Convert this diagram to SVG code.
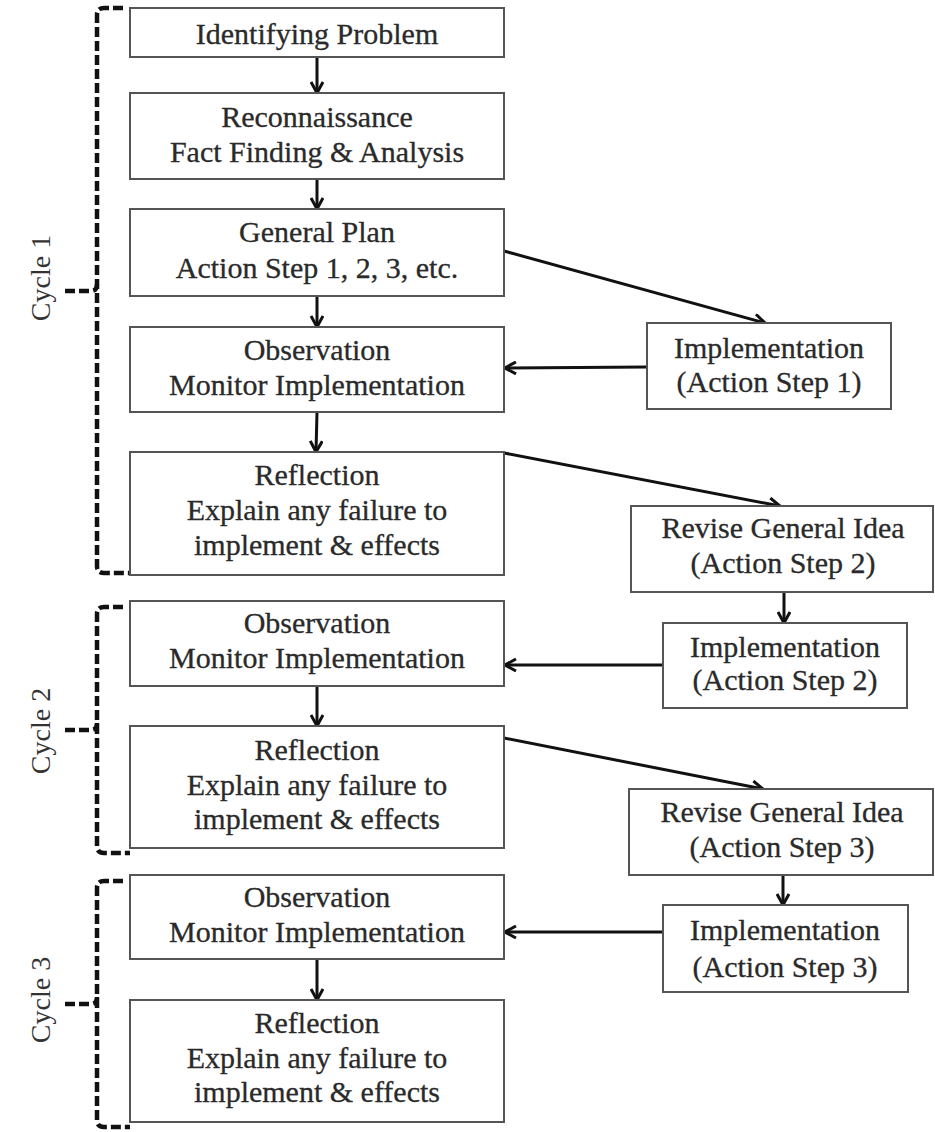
<svg xmlns="http://www.w3.org/2000/svg" width="935" height="1132" viewBox="0 0 935 1132">
<style>
.box{fill:#fff;stroke:#555;stroke-width:2}
.t{font-family:"Liberation Serif","Times New Roman",serif;font-size:30px;fill:#2a2a2a;stroke:#2a2a2a;stroke-width:0.3;text-anchor:middle}
.c{font-family:"Liberation Serif","Times New Roman",serif;font-size:28px;fill:#333;text-anchor:middle}
.ar{stroke:#111;stroke-width:3;fill:none;marker-end:url(#ah)}
.br{stroke:#111;stroke-width:4.5;fill:none;stroke-dasharray:10 4}
</style>
<defs>
<marker id="ah" markerUnits="userSpaceOnUse" viewBox="0 0 14 14" markerWidth="14" markerHeight="14" refX="13" refY="7" orient="auto">
<path d="M2,1 L13,7 L2,13" stroke="#111" stroke-width="3" fill="none"/>
</marker>
</defs>
<rect width="935" height="1132" fill="#fff"/>

<g id="brackets">
<g id="cycle1">
<path class="br" d="M123,8 H104 Q97,8 97,15 V566 Q97,573 104,573 H130"/>
<path class="br" d="M65,291 H91 Q97,291 97,284" stroke-dasharray="none"/>
<text class="c" transform="translate(50,278) rotate(-90)">Cycle 1</text>
</g>
<g id="cycle2">
<path class="br" d="M123,607 H104 Q97,607 97,614 V846 Q97,853 104,853 H130"/>
<path class="br" d="M65,730 H91 Q97,730 97,723" stroke-dasharray="9 4"/>
<text class="c" transform="translate(50,731) rotate(-90)">Cycle 2</text>
</g>
<g id="cycle3">
<path class="br" d="M123,881 H104 Q97,881 97,888 V1120 Q97,1127 104,1127 H130"/>
<path class="br" d="M65,1004 H91 Q97,1004 97,997" stroke-dasharray="9 4"/>
<text class="c" transform="translate(50,1000) rotate(-90)">Cycle 3</text>
</g>
</g>

<g id="connectors">
<line class="ar" x1="317" y1="57" x2="317" y2="93"/>
<line class="ar" x1="317" y1="179" x2="317" y2="209"/>
<line class="ar" x1="317" y1="296" x2="317" y2="327"/>
<line class="ar" x1="317" y1="412" x2="316" y2="452"/>
<line class="ar" x1="504" y1="251" x2="765" y2="323"/>
<line class="ar" x1="647" y1="367" x2="505" y2="368"/>
<line class="ar" x1="504" y1="453" x2="780" y2="506"/>
<line class="ar" x1="784" y1="592" x2="784" y2="623"/>
<line class="ar" x1="663" y1="665" x2="505" y2="665"/>
<line class="ar" x1="317" y1="686" x2="317" y2="726"/>
<line class="ar" x1="504" y1="738" x2="763" y2="789"/>
<line class="ar" x1="783" y1="875" x2="783" y2="905"/>
<line class="ar" x1="663" y1="932" x2="505" y2="932"/>
<line class="ar" x1="317" y1="959" x2="317" y2="1000"/>
</g>

<g id="n1"><rect class="box" x="130" y="8" width="374" height="49"/>
<text class="t" x="317" y="44">Identifying Problem</text></g>

<g id="n2"><rect class="box" x="130" y="93" width="374" height="86"/>
<text class="t" x="317" y="127">Reconnaissance</text>
<text class="t" x="317" y="162">Fact Finding &amp; Analysis</text></g>

<g id="n3"><rect class="box" x="130" y="209" width="374" height="87"/>
<text class="t" x="317" y="242">General Plan</text>
<text class="t" x="317" y="278">Action Step 1, 2, 3, etc.</text></g>

<g id="n4"><rect class="box" x="130" y="327" width="374" height="85"/>
<text class="t" x="317" y="360">Observation</text>
<text class="t" x="317" y="395">Monitor Implementation</text></g>

<g id="n5"><rect class="box" x="130" y="452" width="374" height="123"/>
<text class="t" x="317" y="485">Reflection</text>
<text class="t" x="317" y="520">Explain any failure to</text>
<text class="t" x="317" y="555">implement &amp; effects</text></g>

<g id="n6"><rect class="box" x="130" y="601" width="374" height="85"/>
<text class="t" x="317" y="633">Observation</text>
<text class="t" x="317" y="668">Monitor Implementation</text></g>

<g id="n7"><rect class="box" x="130" y="726" width="374" height="122"/>
<text class="t" x="317" y="760">Reflection</text>
<text class="t" x="317" y="795">Explain any failure to</text>
<text class="t" x="317" y="829">implement &amp; effects</text></g>

<g id="n8"><rect class="box" x="130" y="875" width="374" height="84"/>
<text class="t" x="317" y="907">Observation</text>
<text class="t" x="317" y="942">Monitor Implementation</text></g>

<g id="n9"><rect class="box" x="130" y="1000" width="374" height="122"/>
<text class="t" x="317" y="1033">Reflection</text>
<text class="t" x="317" y="1068">Explain any failure to</text>
<text class="t" x="317" y="1102">implement &amp; effects</text></g>

<g id="r1"><rect class="box" x="647" y="323" width="244" height="86"/>
<text class="t" x="769" y="358">Implementation</text>
<text class="t" x="769" y="392">(Action Step 1)</text></g>

<g id="r2"><rect class="box" x="631" y="506" width="302" height="86"/>
<text class="t" x="783" y="538">Revise General Idea</text>
<text class="t" x="783" y="573">(Action Step 2)</text></g>

<g id="r3"><rect class="box" x="663" y="623" width="244" height="85"/>
<text class="t" x="785" y="657">Implementation</text>
<text class="t" x="785" y="690">(Action Step 2)</text></g>

<g id="r4"><rect class="box" x="629" y="789" width="304" height="86"/>
<text class="t" x="782" y="822">Revise General Idea</text>
<text class="t" x="782" y="857">(Action Step 3)</text></g>

<g id="r5"><rect class="box" x="663" y="905" width="245" height="87"/>
<text class="t" x="785" y="940">Implementation</text>
<text class="t" x="785" y="977">(Action Step 3)</text></g>
</svg>
